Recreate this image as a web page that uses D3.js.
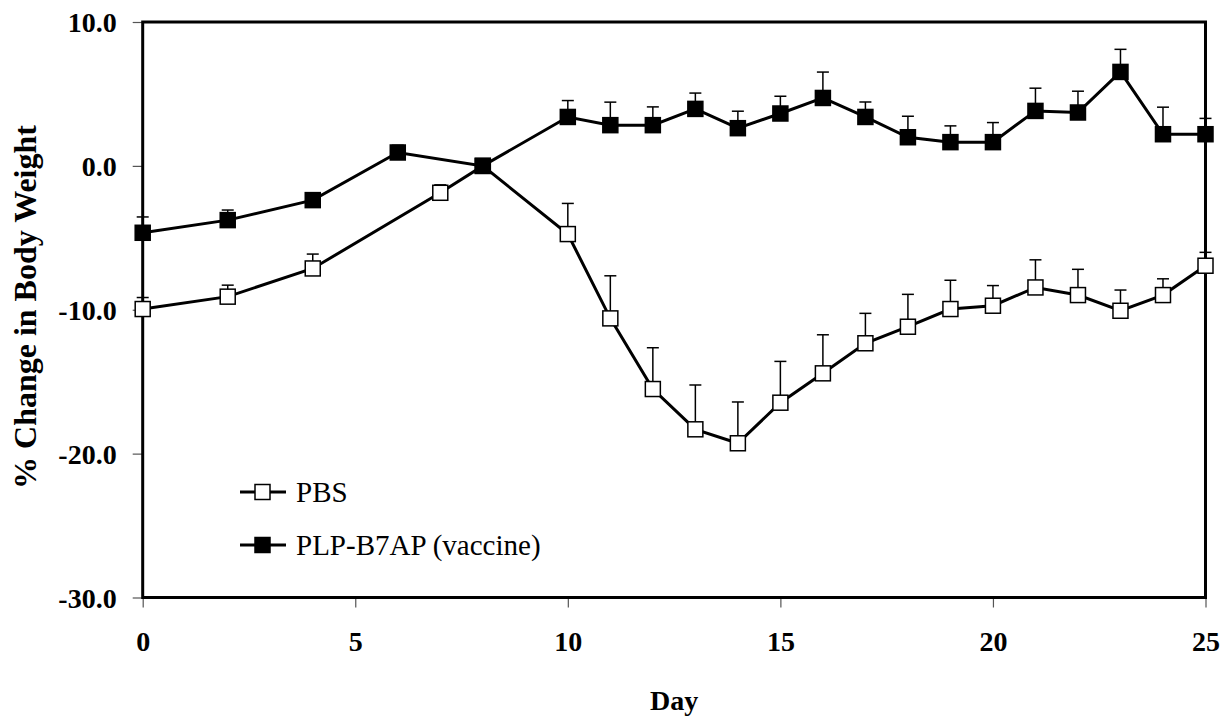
<!DOCTYPE html>
<html>
<head>
<meta charset="utf-8">
<script src="https://cdn.jsdelivr.net/npm/d3@7"></script>
<style>
  body { margin: 0; background: #fff; }
</style>
</head>
<body>
<svg id="chart"></svg>
<script>
// Days sampled for each group
const pbsDays = [0, 2, 4, 7, 8, 10, 11, 12, 13, 14, 15, 16, 17, 18, 19, 20, 21, 22, 23, 24, 25];
const vacDays = [0, 2, 4, 6, 8, 10, 11, 12, 13, 14, 15, 16, 17, 18, 19, 20, 21, 22, 23, 24, 25];

// % change in body weight (mean) and upper error
const pbsMean = [-9.95, -9.09, -7.13, -1.87, 0.0, -4.74, -10.6, -15.51, -18.31, -19.28, -16.46, -14.42, -12.33, -11.18, -9.95, -9.72, -8.45, -8.98, -10.07, -8.98, -6.94];
const pbsErr  = [0.8, 0.8, 1.0, 0.55, 0, 2.13, 2.96, 2.87, 3.08, 2.87, 2.87, 2.68, 2.08, 2.25, 2.0, 1.4, 1.92, 1.79, 1.44, 1.13, 0.93];
const vacMean = [-4.65, -3.77, -2.38, 0.93, 0.0, 3.4, 2.83, 2.83, 3.96, 2.62, 3.64, 4.72, 3.4, 1.99, 1.65, 1.65, 3.82, 3.71, 6.53, 2.2, 2.2];
const vacErr  = [1.1, 0.7, 0.3, 0.5, 0, 1.14, 1.6, 1.27, 1.1, 1.18, 1.2, 1.8, 1.04, 1.46, 1.13, 1.36, 1.58, 1.48, 1.57, 1.88, 1.1];

const xTicks = [0, 5, 10, 15, 20, 25];
const yTicks = [10, 0, -10, -20, -30];
const seriesNames = ['PBS', 'PLP-B7AP (vaccine)'];

const FONT = '"Liberation Serif", "Times New Roman", serif';

const W = 1225, H = 719;
const margin = { top: 22, right: 19.5, bottom: 121.5, left: 142.7 };
const width = W - margin.left - margin.right;
const height = H - margin.top - margin.bottom;

const svg = d3.select('svg#chart')
    .attr('width', W)
    .attr('height', H)
    .attr('font-family', FONT);

const g = svg.append('g')
    .attr('transform', `translate(${margin.left}, ${margin.top})`);

const xScale = d3.scaleLinear().domain([0, 25]).range([0, width]);
const yScale = d3.scaleLinear().domain([-30, 10]).range([height, 0]);

// Axes (ticks only; frame drawn separately)
const xAxis = d3.axisBottom(xScale).tickValues(xTicks).tickSize(10).tickSizeOuter(0).tickPadding(24)
    .tickFormat(d => String(d));
const yAxis = d3.axisLeft(yScale).tickValues(yTicks).tickSize(10).tickSizeOuter(0).tickPadding(16)
    .tickFormat(d => d.toFixed(1));

const gx = g.append('g').attr('transform', `translate(0, ${height})`).call(xAxis);
const gy = g.append('g').call(yAxis);

[gx, gy].forEach(a => {
    a.attr('font-family', FONT);
    a.select('.domain').remove();
    a.selectAll('.tick line').attr('stroke', '#555').attr('stroke-width', 1.2);
    a.selectAll('.tick text')
        .attr('fill', '#000')
        .style('font-family', FONT)
        .style('font-size', '28px')
        .style('font-weight', 'bold');
});
gx.selectAll('.tick text').attr('dy', '0.71em');
gy.selectAll('.tick text').attr('dy', '0.34em');

// Plot frame
g.append('rect')
    .attr('x', 0).attr('y', 0)
    .attr('width', width).attr('height', height)
    .attr('fill', 'none')
    .attr('stroke', '#000')
    .attr('stroke-width', 3);

// Axis titles
svg.append('text')
    .attr('x', margin.left + width / 2)
    .attr('y', 710)
    .attr('text-anchor', 'middle')
    .style('font-family', FONT)
    .style('font-size', '28px')
    .style('font-weight', 'bold')
    .text('Day');

svg.append('text')
    .attr('transform', `translate(36, 307) rotate(-90)`)
    .attr('text-anchor', 'middle')
    .style('font-family', FONT)
    .style('font-size', '32px')
    .style('font-weight', 'bold')
    .text('% Change in Body Weight');

const series = [
    { days: pbsDays, mean: pbsMean, err: pbsErr, fill: '#fff' },
    { days: vacDays, mean: vacMean, err: vacErr, fill: '#000' }
];

const line = d3.line()
    .x(d => xScale(d.day))
    .y(d => yScale(d.v));

const msize = 15;

series.forEach(s => {
    const pts = s.days.map((d, i) => ({ day: d, v: s.mean[i], e: s.err[i] }));

    g.append('path')
        .datum(pts)
        .attr('d', line)
        .attr('fill', 'none')
        .attr('stroke', '#000')
        .attr('stroke-width', 3);

    // upper error bars
    const eb = g.append('g').selectAll('g')
        .data(pts.filter(p => p.e > 0))
        .enter().append('g');
    eb.append('line')
        .attr('x1', d => xScale(d.day)).attr('x2', d => xScale(d.day))
        .attr('y1', d => yScale(d.v)).attr('y2', d => yScale(d.v + d.e))
        .attr('stroke', '#000').attr('stroke-width', 1.5);
    eb.append('line')
        .attr('x1', d => xScale(d.day) - 6).attr('x2', d => xScale(d.day) + 6)
        .attr('y1', d => yScale(d.v + d.e)).attr('y2', d => yScale(d.v + d.e))
        .attr('stroke', '#000').attr('stroke-width', 1.5);

    g.append('g').selectAll('rect')
        .data(pts)
        .enter().append('rect')
        .attr('x', d => xScale(d.day) - msize / 2)
        .attr('y', d => yScale(d.v) - msize / 2)
        .attr('width', msize)
        .attr('height', msize)
        .attr('fill', s.fill)
        .attr('stroke', '#000')
        .attr('stroke-width', 1.5);
});

// Legend
const legend = svg.append('g').attr('transform', 'translate(240, 492)');
seriesNames.forEach((name, i) => {
    const row = legend.append('g').attr('transform', `translate(0, ${i * 53})`);
    row.append('line')
        .attr('x1', 0).attr('x2', 46).attr('y1', 0).attr('y2', 0)
        .attr('stroke', '#000').attr('stroke-width', 3);
    row.append('rect')
        .attr('x', 15).attr('y', -7.5).attr('width', 15).attr('height', 15)
        .attr('fill', series[i].fill).attr('stroke', '#000').attr('stroke-width', 1.5);
    row.append('text')
        .attr('x', 56).attr('y', 0).attr('dy', '0.35em')
        .style('font-family', FONT)
        .style('font-size', '29px')
        .text(name);
});
</script>
</body>
</html>
